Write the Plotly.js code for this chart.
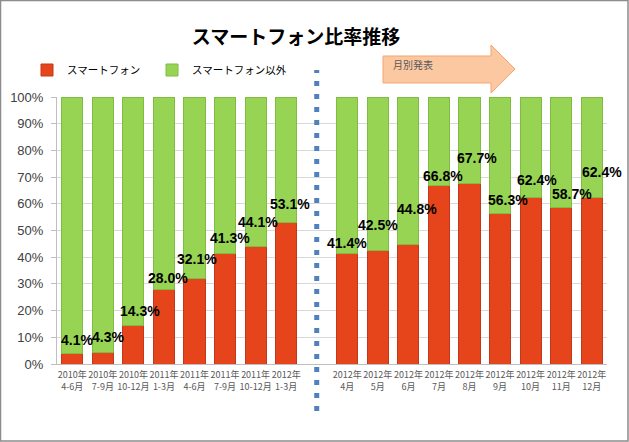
<!DOCTYPE html>
<html>
<head>
<meta charset="utf-8">
<script src="https://cdn.plot.ly/plotly-3.0.1.min.js"></script>
<style>
html,body{margin:0;padding:0;background:#fff;}
#chart{width:629px;height:442px;}
</style>
</head>
<body>
<div id="chart"></div>
<script>
// ---- data ----
var categories = [
  "2010年<br>4-6月", "2010年<br>7-9月", "2010年<br>10-12月", "2011年<br>1-3月",
  "2011年<br>4-6月", "2011年<br>7-9月", "2011年<br>10-12月", "2012年<br>1-3月",
  "",
  "2012年<br>4月", "2012年<br>5月", "2012年<br>6月", "2012年<br>7月", "2012年<br>8月",
  "2012年<br>9月", "2012年<br>10月", "2012年<br>11月", "2012年<br>12月"
];
var smartphone = [4.1, 4.3, 14.3, 28.0, 32.1, 41.3, 44.1, 53.1, null,
                  41.4, 42.5, 44.8, 66.8, 67.7, 56.3, 62.4, 58.7, 62.4];
var seriesNames = ["スマートフォン", "スマートフォン以外"];
var yTicks = [0, 10, 20, 30, 40, 50, 60, 70, 80, 90, 100];
var chartTitle = "スマートフォン比率推移";
var arrowText = "月別発表";

// ---- label nudges (style only, pixels) ----
var labelDx = [4.5, 5, 7, 4.5, 2, 5, 2.5, 3.5, 0, 0, 0.5, 8.5, 4, 7, 7.5, 6.5, 11, 10];
var labelDy = [13, 16, 15, 11, 19, 16, 24, 18, 0, 10, 26, 35, 10, 25, 14, 17, 13, 25];

// ---- derived ----
var xIdx = categories.map(function (c, i) { return i; });
var others = smartphone.map(function (v) { return v === null ? null : Math.round((100 - v) * 10) / 10; });
var gapIndex = categories.indexOf("");

// layout geometry
var W = 629, H = 442;
var M = {l: 57, r: 22, t: 97, b: 78};
var PW = W - M.l - M.r, PH = H - M.t - M.b;
function px2x(px) { return (px - M.l) / PW; }
function py2y(py) { return (H - M.b - py) / PH; }

var traces = [
  {
    type: "bar", name: seriesNames[0], x: xIdx, y: smartphone, legend: "legend",
    marker: {color: "#E6441B", line: {color: "#C2381A", width: 1}},
    hoverinfo: "skip"
  },
  {
    type: "bar", name: seriesNames[1], x: xIdx, y: others, legend: "legend2",
    marker: {color: "#98D454", line: {color: "#80BC42", width: 1}},
    hoverinfo: "skip"
  }
];

var annotations = [];
smartphone.forEach(function (v, i) {
  if (v === null) return;
  annotations.push({
    x: i, y: v, xref: "x", yref: "y",
    text: v.toFixed(1) + "%", showarrow: false,
    xanchor: "center", yanchor: "middle",
    xshift: labelDx[i], yshift: labelDy[i],
    font: {family: "Liberation Sans, Arial, sans-serif", size: 14, color: "#000", weight: 700}
  });
});
annotations.push({
  x: px2x(391), y: py2y(65), xref: "paper", yref: "paper",
  text: arrowText, showarrow: false, xanchor: "left", yanchor: "middle",
  font: {family: "Noto Sans CJK JP, sans-serif", size: 10, color: "#595959"}
});

var arrowPts = [[383, 56], [491, 56], [491, 45], [515, 69], [491, 93], [491, 83], [383, 83]];
var arrowPath = "M" + arrowPts.map(function (p) { return px2x(p[0]).toFixed(5) + "," + py2y(p[1]).toFixed(5); }).join(" L") + " Z";

var xGapPaper = (gapIndex + 0.5) / categories.length;

var shapes = [
  {
    type: "rect", xref: "paper", yref: "paper",
    x0: px2x(0.5), x1: px2x(628), y0: py2y(441), y1: py2y(0.5),
    line: {color: "#8C8C8C", width: 1.5}, fillcolor: "rgba(0,0,0,0)", layer: "below"
  },
  {
    type: "line", xref: "paper", yref: "paper",
    x0: xGapPaper, x1: xGapPaper, y0: py2y(411), y1: py2y(70),
    line: {color: "#4F81BD", width: 5, dash: "5px,8px"}
  },
  {
    type: "path", xref: "paper", yref: "paper", path: arrowPath,
    fillcolor: "#FBC8A2", line: {color: "#F6A56E", width: 1}
  }
];

var legendFont = {family: "Noto Sans CJK JP, sans-serif", size: 10.5, color: "#000"};

var layout = {
  width: W, height: H,
  margin: M,
  paper_bgcolor: "#fff", plot_bgcolor: "#fff",
  barmode: "stack", bargap: 0.31,
  showlegend: true,
  title: {
    text: chartTitle, x: 296 / W, xanchor: "center", xref: "container",
    y: 1 - 37 / H, yanchor: "middle", yref: "container",
    font: {family: "Noto Sans CJK JP, sans-serif", size: 19, color: "#000", weight: 700}
  },
  legend: {
    orientation: "h", x: px2x(27), xanchor: "left", y: py2y(70), yanchor: "middle",
    font: legendFont, bgcolor: "rgba(0,0,0,0)"
  },
  legend2: {
    orientation: "h", x: px2x(152), xanchor: "left", y: py2y(70), yanchor: "middle",
    font: legendFont, bgcolor: "rgba(0,0,0,0)"
  },
  xaxis: {
    type: "linear", range: [-0.5, categories.length - 0.5],
    tickmode: "array", tickvals: xIdx, ticktext: categories, tickangle: 0,
    showgrid: false, zeroline: false, showline: true, linecolor: "#BFBFBF", linewidth: 1,
    ticks: "", fixedrange: true, ticklabelstandoff: 2,
    tickfont: {family: "Noto Sans CJK JP, sans-serif", size: 9, color: "#595959"}
  },
  yaxis: {
    range: [0, 100], tickmode: "array", tickvals: yTicks,
    ticktext: yTicks.map(function (t) { return t + "%"; }),
    showgrid: true, gridcolor: "#D9D9D9", gridwidth: 1, zeroline: false,
    showline: true, linecolor: "#BFBFBF", linewidth: 1,
    ticks: "outside", ticklen: 5, tickcolor: "#BFBFBF", ticklabelstandoff: 5,
    fixedrange: true,
    tickfont: {family: "Liberation Sans, Arial, sans-serif", size: 13, color: "#404040"}
  },
  annotations: annotations,
  shapes: shapes
};

Plotly.newPlot("chart", traces, layout, {staticPlot: true, displayModeBar: false});
</script>
</body>
</html>
